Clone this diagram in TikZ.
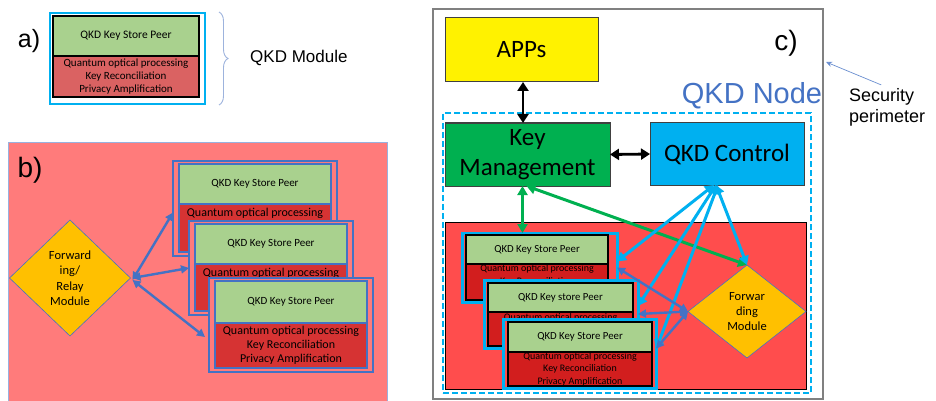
\documentclass[tikz,border=0pt]{standalone}
\usepackage{fontspec}
\setmainfont{Carlito}
\newfontfamily\arialf{Liberation Sans}
\usetikzlibrary{shapes.geometric,arrows.meta,decorations.pathreplacing,calc}
\definecolor{lgreen}{HTML}{A9D18E}
\definecolor{ared}{HTML}{DA6262}
\definecolor{bbg}{HTML}{FF7B7B}
\definecolor{bred}{HTML}{D63333}
\definecolor{cregion}{HTML}{FF4D4D}
\definecolor{cred}{HTML}{D21E1E}
\definecolor{ublue}{HTML}{4472C4}
\definecolor{ucyan}{HTML}{00B0F0}
\definecolor{ugreen}{HTML}{00B050}
\definecolor{uyellow}{HTML}{FFC000}
\definecolor{bracec}{HTML}{9DB3DD}
\begin{document}
\begin{tikzpicture}[x=1pt,y=-1pt,
  bx/.style={rectangle,inner sep=0pt,outer sep=0pt,align=center},
  lbl/.style={inner sep=0pt,font=\arialf\fontsize{#1}{#1}\selectfont},
  dia/.style={diamond,fill=uyellow,draw=ublue,line width=0.6pt,inner sep=0pt,outer sep=0pt},
  barrow/.style={draw=ublue,line width=2.4pt,{Triangle[length=8pt,width=8pt]}-{Triangle[length=8pt,width=8pt]}},
  carrow/.style={draw=ucyan,line width=3pt,{Triangle[length=9pt,width=10pt]}-{Triangle[length=9pt,width=10pt]}},
  garrow/.style={draw=ugreen,line width=3pt,{Triangle[length=9pt,width=10pt]}-{Triangle[length=9pt,width=10pt]}},
  karrow/.style={draw=black,line width=2.8pt,{Triangle[length=9pt,width=11pt]}-{Triangle[length=9pt,width=11pt]}},
  % panel a
  agr/.style={bx,fill=lgreen,draw=black,line width=1.3pt,font=\fontsize{11.5}{13}\selectfont},
  ard/.style={bx,fill=ared,draw=black,line width=1.3pt,font=\fontsize{11}{13}\selectfont},
  % panel b
  bout/.style={bx,fill=bbg,draw=ublue,line width=2pt},
  bgr/.style={bx,fill=lgreen,draw=ublue,line width=1.6pt,font=\fontsize{11}{13}\selectfont},
  brd/.style={bx,fill=bred,draw=ublue,line width=1.6pt,font=\fontsize{12}{14}\selectfont},
  btx/.style={inner sep=0pt,align=center,font=\fontsize{12}{14}\selectfont},
  % panel c
  cout/.style={bx,fill=cregion,draw=ucyan,line width=3pt},
  cgr/.style={bx,fill=lgreen,draw=black,line width=1.4pt,font=\fontsize{10.8}{12.5}\selectfont},
  crd/.style={bx,fill=cred,draw=black,line width=1.4pt,font=\fontsize{10}{12.5}\selectfont},
  ctx/.style={inner sep=0pt,align=center,font=\fontsize{10}{12.5}\selectfont},
  big/.style={bx,draw=black!75,line width=1pt,font=\fontsize{25}{30}\selectfont}
]
\useasboundingbox (0,0) rectangle (936,401);
\fill[white] (0,0) rectangle (936,401);

%================ panel a
\node[lbl=25] (alab) at (29,41) {a)};
\node[bx,draw=ucyan,line width=2.6pt,fill=white,minimum width=155pt,minimum height=91pt] (aout) at (127.5,58.5) {};
\node[agr,minimum width=146pt,minimum height=40pt] (agreen) at (126,36) {QKD Key Store Peer};
\node[ard,minimum width=146pt,minimum height=41pt] (ared) at (126,76.5) {Quantum optical processing\\Key Reconciliation\\Privacy Amplification};
\draw[bracec,line width=0.9pt,decorate,decoration={brace,amplitude=9pt,raise=0pt}] (219,12) -- (219,105);
\node[lbl=17,anchor=west] (amod) at (250,58) {QKD Module};

%================ panel b
\node[bx,fill=bbg,draw=ublue!55,line width=0.8pt,minimum width=379pt,minimum height=270pt] (bbgnode) at (197.5,277) {};
\node[lbl=28] (blab) at (30,170) {b)};
\node[dia,minimum width=121pt,minimum height=116pt] (bfwd) at (70,278) {};
\node[inner sep=0pt,align=center,font=\fontsize{12.5}{15.5}\selectfont] (bfwdt) at (bfwd.center) {Forward\\ing/\\Relay\\Module};

\node[bout,minimum width=164pt,minimum height=95pt] (bm1o) at (255,208.5) {};
\node[bgr,minimum width=152pt,minimum height=40pt] (bm1g) at (255,184) {QKD Key Store Peer};
\node[brd,minimum width=152pt,minimum height=48pt] (bm1r) at (255,228) {};
\node[btx] (bm1t) at (255,213) {Quantum optical processing};

\node[bout,minimum width=164pt,minimum height=94pt] (bm2o) at (271,268) {};
\node[bgr,minimum width=152pt,minimum height=40pt] (bm2g) at (271,244) {QKD Key Store Peer};
\node[brd,minimum width=152pt,minimum height=47pt] (bm2r) at (271,287.5) {};
\node[btx] (bm2t) at (271,273.5) {Quantum optical processing};

\node[bout,minimum width=164pt,minimum height=94pt] (bm3o) at (291,325) {};
\node[bgr,minimum width=152pt,minimum height=42pt] (bm3g) at (291,302) {QKD Key Store Peer};
\node[brd,minimum width=152pt,minimum height=45pt] (bm3r) at (291,345.5) {Quantum optical processing\\Key Reconciliation\\Privacy Amplification};

\draw[barrow] ([xshift=2pt,yshift=-2pt]bfwd.east) -- ([yshift=-4pt]bm1o.west);
\draw[barrow] ([xshift=2pt]bfwd.east) -- (bm2o.west);
\draw[barrow] ([xshift=2pt,yshift=-2pt]bfwd.east) -- ([xshift=-4pt,yshift=-12pt]bm3o.west);

%================ panel c
\node[bx,draw=black!50,line width=2.4pt,fill=white,minimum width=390pt,minimum height=390pt] (cper) at (628,204) {};
\node[big,fill=yellow,minimum width=153pt,minimum height=64pt] (apps) at (521.5,50) {APPs};
\node[lbl=28] (clab) at (786,43) {c)};
\node[lbl=29,text=ublue] (cnode) at (752,96) {QKD Node};
\node[bx,draw=ucyan,line width=1.6pt,dash pattern=on 6pt off 3pt,minimum width=368pt,minimum height=280pt] (cdash) at (627,253) {};
\node[big,fill=ugreen,minimum width=165pt,minimum height=63pt] (km) at (527.5,154.5) {Key\\Management};
\node[big,fill=ucyan,minimum width=154pt,minimum height=62pt] (ctrl) at (727,154) {QKD Control};
\node[bx,fill=cregion,draw=black,line width=0.8pt,minimum width=361pt,minimum height=167pt] (creg) at (625.5,305.5) {};

\node[cout,minimum width=155pt,minimum height=69pt] (cm1o) at (539.5,267.5) {};
\node[cgr,minimum width=142pt,minimum height=29pt] (cm1g) at (537,249.5) {QKD Key Store Peer};
\node[crd,minimum width=142pt,minimum height=36pt] (cm1r) at (537,282) {};
\node[ctx] (cm1t) at (537,275.5) {Quantum optical processing\\Key Reconciliation};

\node[cout,minimum width=154pt,minimum height=68pt] (cm2o) at (561,314) {};
\node[cgr,minimum width=145pt,minimum height=29pt] (cm2g) at (560.5,297.5) {QKD Key store Peer};
\node[crd,minimum width=145pt,minimum height=34pt] (cm2r) at (560.5,329) {};
\node[ctx] (cm2t) at (560.5,318) {Quantum optical processing};

\node[cout,minimum width=153pt,minimum height=69pt] (cm3o) at (579.5,353.5) {};
\node[cgr,minimum width=144pt,minimum height=30pt] (cm3g) at (580,337) {QKD Key Store Peer};
\node[crd,minimum width=144pt,minimum height=34pt] (cm3r) at (580,369) {Quantum optical processing\\Key Reconciliation\\Privacy Amplification};

\node[dia,minimum width=118pt,minimum height=93pt] (cfwd) at (747,311.5) {};
\node[inner sep=0pt,align=center,font=\fontsize{12.5}{15}\selectfont] (cfwdt) at (cfwd.center) {Forwar\\ding\\Module};

% connectors
\draw[karrow] ([xshift=1.5pt]apps.south) -- ([xshift=-4.5pt]km.north);
\draw[karrow] (km.east) -- (ctrl.west);
\draw[garrow] ([xshift=-5pt]km.south) -- ([xshift=-5pt]km.south |- cm1o.north);
\draw[garrow] ([xshift=-1pt]km.south) -- (cfwd.north);
\draw[carrow] ([xshift=-13pt]ctrl.south) -- ([yshift=6pt]cm1o.east);
\draw[carrow] ([xshift=-11pt]ctrl.south) -- ([yshift=8pt]cm2o.east);
\draw[carrow] ([xshift=-9pt]ctrl.south) -- ([yshift=4pt]cm3o.east);
\draw[carrow] ([xshift=-11pt]ctrl.south) -- (cfwd.north);
\draw[barrow] (cfwd.west) -- (cm1o.east);
\draw[barrow] (cfwd.west) -- (cm2o.east);
\draw[barrow] (cfwd.west) -- ([yshift=5pt]cm3o.east);

% security perimeter
\node[lbl=18,anchor=west,align=left,font=\arialf\fontsize{18}{21}\selectfont] (sec) at (849,107) {Security\\perimeter};
\coordinate (perim) at (826,62);
\draw[ublue!80,line width=0.7pt,-{Stealth[length=6pt,width=5pt]}] ([xshift=-6pt,yshift=3pt]sec.north) -- (perim);
\end{tikzpicture}
\end{document}
